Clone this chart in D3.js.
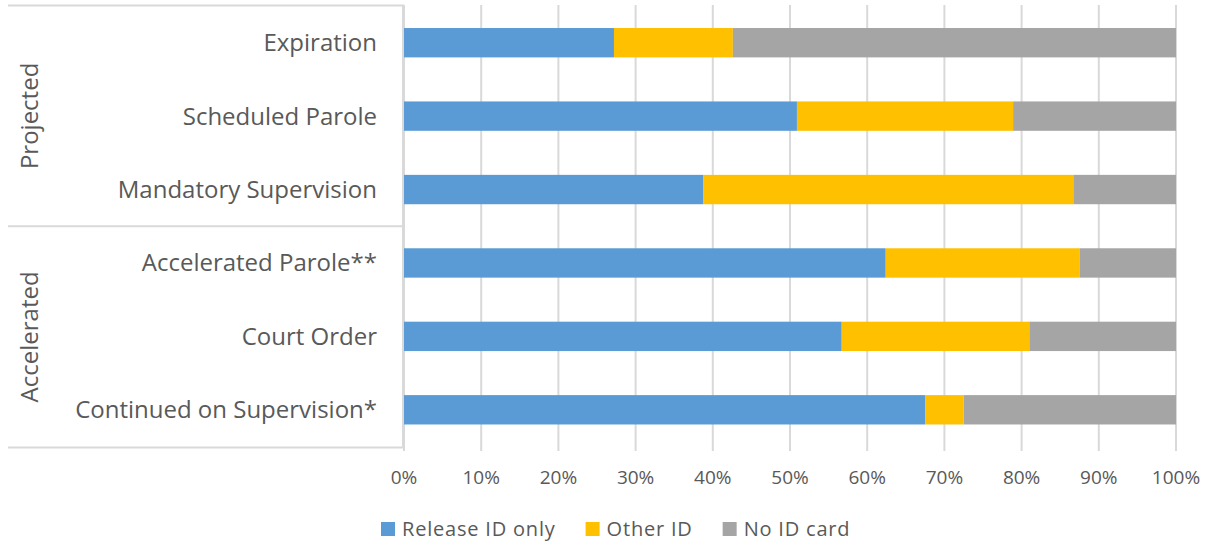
<!DOCTYPE html>
<html><head><meta charset="utf-8">
<script src="https://cdn.jsdelivr.net/npm/d3@7/dist/d3.min.js"></script>
<style>body{margin:0;background:#fff}svg{display:block}text{font-family:"Open Sans",sans-serif;fill:#595959}</style>
</head><body><svg id="c" width="1212" height="544"></svg>
<script>
const categories = ["Expiration","Scheduled Parole","Mandatory Supervision","Accelerated Parole**","Court Order","Continued on Supervision*"];
const groups = ["Projected","Accelerated"];
const seriesNames = ["Release ID only","Other ID","No ID card"];
const releaseIdOnly = [27.2, 50.9, 38.8, 62.4, 56.7, 67.5];
const otherId = [15.4, 28.0, 47.9, 25.1, 24.3, 5.0];
const noIdCard = [57.4, 21.1, 13.3, 12.5, 19.0, 27.5];
const tickValues = [0,10,20,30,40,50,60,70,80,90,100];
const colors = ["#5B9BD5","#FFC000","#A5A5A5"];

const svg = d3.select("#c");
const x = d3.scaleLinear().domain([0,100]).range([404,1176]);
const y = d3.scaleBand().domain(categories).range([6,446.5]).paddingInner(0.6).paddingOuter(0.3);

// gridlines
svg.append("g").selectAll("line").data(tickValues).join("line")
  .attr("x1",d=>x(d)).attr("x2",d=>x(d)).attr("y1",5).attr("y2",451)
  .attr("stroke","#d9d9d9").attr("stroke-width",2);

// stacked bars
const rows = categories.map((c,i)=>({cat:c, v:[releaseIdOnly[i],otherId[i],noIdCard[i]]}));
const stack = d3.stack().keys([0,1,2]).value((d,k)=>d.v[k]);
const layers = stack(rows);
svg.append("g").selectAll("g").data(layers).join("g").attr("fill",(d,i)=>colors[i])
  .selectAll("rect").data(d=>d).join("rect")
  .attr("x",d=>x(d[0])).attr("width",d=>x(d[1])-x(d[0]))
  .attr("y",d=>y(d.data.cat)).attr("height",y.bandwidth());

// axis line & group separators
const axisCol = "#d9d9d9";
svg.append("line").attr("x1",403).attr("x2",403).attr("y1",5).attr("y2",448).attr("stroke",axisCol).attr("stroke-width",2);
const sepY = [5.5, (y(categories[2])+y.bandwidth()+y(categories[3]))/2, 447.5];
svg.append("g").selectAll("line").data(sepY).join("line")
  .attr("x1",8).attr("x2",404).attr("y1",d=>d).attr("y2",d=>d)
  .attr("stroke",axisCol).attr("stroke-width",2);

// category labels
svg.append("g").selectAll("text").data(categories).join("text")
  .attr("x",377).attr("y",d=>y(d)+y.bandwidth()/2).attr("dy","0.35em")
  .attr("text-anchor","end").style("font-size","24px").text(d=>d);

// group labels
groups.forEach((g,i)=>{
  const cy = (sepY[i]+sepY[i+1])/2;
  svg.append("text").attr("transform",`translate(30,${cy}) rotate(-90)`)
    .attr("text-anchor","middle").attr("dy","0.35em").style("font-size","24px").text(g);
});

// x tick labels
svg.append("g").selectAll("text").data(tickValues).join("text")
  .attr("x",d=>x(d)).attr("y",483.5).attr("text-anchor","middle")
  .style("font-size","19px").text(d=>d+"%");

// legend
const lg = svg.append("g");
let lx = 381;
seriesNames.forEach((s,i)=>{
  lg.append("rect").attr("x",lx).attr("y",522).attr("width",14).attr("height",14).attr("fill",colors[i]);
  const t = lg.append("text").attr("x",lx+21).attr("y",535.5).style("font-size","20px").style("letter-spacing","0.8px").text(s);
  lx += 21 + t.node().getComputedTextLength() + 30;
});
</script></body></html>
